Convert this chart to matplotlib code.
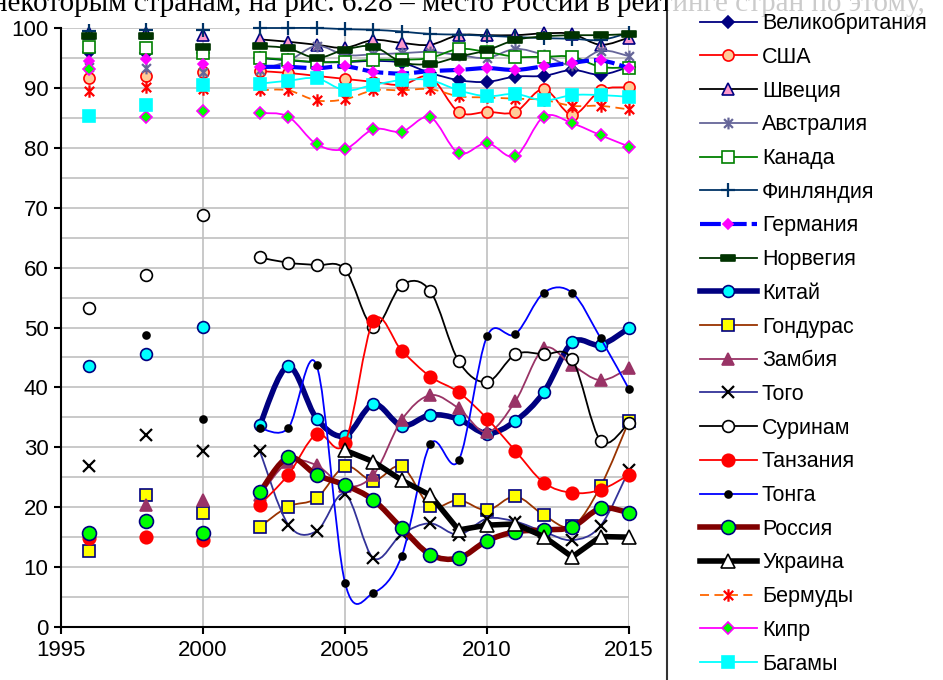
"""
Country rating chart (1996-2015), Excel-style smoothed lines with legend on the right.
Writes out.png.
"""
import numpy as np
import matplotlib
matplotlib.use("Agg")
import matplotlib.pyplot as plt
from matplotlib.lines import Line2D
from matplotlib.path import Path
from matplotlib.patches import PathPatch

plt.rcParams["font.family"] = ["Liberation Sans", "DejaVu Sans"]

nan = np.nan
YEARS = [1996, 1998, 2000, 2002, 2003, 2004, 2005, 2006, 2007, 2008,
         2009, 2010, 2011, 2012, 2013, 2014, 2015]

UK = [96.0, 95.8, 95.8, 95.0, 94.6, 94.3, 94.3, 94.5, 94.2, 92.5, 91.3, 91.0, 91.9, 92.0, 93.0, 92.2, 93.5]
USA = [91.6, 92.0, 92.6, 92.8, 92.5, 92.0, 91.5, 91.0, 90.5, 91.8, 86.0, 86.0, 86.0, 89.8, 85.5, 89.6, 90.1]
SWEDEN = [99.2, 99.2, 98.8, 98.1, 97.7, 97.2, 96.7, 98.0, 97.5, 97.2, 98.8, 98.8, 98.8, 99.1, 99.0, 97.2, 98.4]
AUSTRALIA = [93.5, 93.3, 92.7, 93.0, 94.5, 97.0, 95.5, 95.6, 95.8, 96.0, 95.5, 95.0, 96.5, 95.5, 93.8, 96.2, 95.3]
CANADA = [96.8, 96.7, 95.8, 95.0, 94.7, 94.3, 94.4, 94.7, 94.7, 95.0, 96.5, 96.0, 95.2, 95.2, 95.2, 93.5, 93.4]
FINLAND = [99.5, 99.7, 99.7, 100.0, 100.0, 100.0, 99.8, 99.7, 99.4, 99.0, 98.9, 98.7, 98.5, 98.3, 98.2, 98.0, 99.2]
GERMANY = [94.5, 94.8, 94.0, 93.5, 93.5, 93.3, 93.6, 92.7, 92.4, 92.8, 93.0, 93.3, 93.0, 93.6, 94.2, 94.6, 93.3]
NORWAY = [98.6, 98.6, 96.8, 97.0, 96.6, 95.0, 96.4, 96.9, 94.3, 94.0, 95.2, 96.3, 98.0, 98.6, 98.8, 98.8, 99.0]
CHINA = [43.5, 45.5, 50.1, 33.7, 43.5, 34.8, 31.9, 37.2, 33.6, 35.4, 34.7, 32.3, 34.4, 39.2, 47.5, 47.1, 49.9]
HONDURAS = [12.7, 22.0, 19.0, 16.7, 20.1, 21.5, 26.8, 24.4, 26.8, 20.2, 21.2, 19.5, 21.8, 18.7, 16.8, 23.5, 34.4]
ZAMBIA = [nan, 20.4, 21.2, 22.0, 27.5, 27.0, 23.5, 25.4, 34.6, 38.7, 36.5, 32.5, 37.7, 46.5, 43.7, 41.2, 43.2]
TOGO = [26.8, 32.1, 29.4, 29.4, 17.1, 16.0, 22.2, 11.5, 15.5, 17.3, 15.4, 18.1, 17.6, 15.9, 14.5, 16.9, 26.2]
SURINAME = [53.2, 58.8, 68.8, 61.7, 60.8, 60.4, 59.7, 50.1, 57.1, 56.1, 44.4, 40.9, 45.5, 45.5, 44.7, 31.1, 34.1]
TANZANIA = [14.8, 15.1, 14.6, 20.4, 25.4, 32.2, 30.8, 51.1, 46.1, 41.8, 39.2, 34.8, 29.4, 24.1, 22.4, 22.9, 25.4]
TONGA = [nan, 48.7, 34.7, 33.2, 33.2, 43.7, 7.4, 5.7, 11.9, 30.5, 27.8, 48.5, 48.9, 55.8, 55.8, 48.2, 39.7]
RUSSIA = [15.7, 17.7, 15.7, 22.5, 28.3, 25.4, 23.7, 21.2, 16.5, 12.1, 11.5, 14.4, 15.9, 16.2, 16.7, 19.8, 19.1]
UKRAINE = [nan, nan, nan, nan, nan, nan, 29.5, 27.6, 24.5, 22.0, 16.2, 17.0, 17.2, 15.1, 11.7, 15.1, 15.0]
BERMUDA = [89.4, 90.1, 89.8, 89.6, 89.6, 87.9, 88.1, 89.6, 89.6, 89.8, 88.6, 88.4, 88.2, 88.0, 87.0, 87.0, 86.4]
CYPRUS = [93.2, 85.2, 86.1, 85.8, 85.2, 80.6, 79.8, 83.1, 82.7, 85.1, 79.1, 80.8, 78.6, 85.2, 84.1, 82.1, 80.2]
BAHAMAS = [85.3, 87.1, 90.5, 90.7, 91.2, 91.6, 89.6, 90.5, 91.3, 91.3, 89.6, 88.6, 89.0, 87.9, 88.8, 88.8, 88.5]

# custom marker shapes
BAR = Path([(-1, -0.45), (1, -0.45), (1, 0.45), (-1, 0.45), (-1, -0.45)],
           [Path.MOVETO, Path.LINETO, Path.LINETO, Path.LINETO, Path.CLOSEPOLY])
STAR = Path([(0, -1), (0, 1), (-0.75, -0.75), (0.75, 0.75), (-0.75, 0.75), (0.75, -0.75)],
            [Path.MOVETO, Path.LINETO] * 3)

# name, values, line colour, line width, dashes, marker, size, face, edge, smooth
SERIES = [
    ("Великобритания", UK, "#000080", 1.3, None, "D", 6, "#000080", "#000080", True),
    ("США", USA, "#FF0000", 1.3, None, "o", 8, "#FFCC99", "#FF0000", True),
    ("Швеция", SWEDEN, "#000000", 1.3, None, "^", 8.5, "#FF99CC", "#000080", True),
    ("Австралия", AUSTRALIA, "#666699", 1.3, None, STAR, 8.5, "none", "#666699", True),
    ("Канада", CANADA, "#008000", 1.3, None, "s", 8.5, "#FFFFFF", "#008000", True),
    ("Финляндия", FINLAND, "#003366", 1.3, None, "+", 10, "#003366", "#003366", True),
    ("Германия", GERMANY, "#0000FF", 3.0, (5, 1.2), "D", 5, "#FF00FF", "#FF00FF", True),
    ("Норвегия", NORWAY, "#003300", 1.3, None, BAR, 9.5, "#003300", "#003300", True),
    ("Китай", CHINA, "#000080", 4.0, None, "o", 8.5, "#00FFFF", "#000080", True),
    ("Гондурас", HONDURAS, "#993300", 1.3, None, "s", 8, "#FFFF00", "#000080", True),
    ("Замбия", ZAMBIA, "#993366", 1.3, None, "^", 8.5, "#993366", "#993366", True),
    ("Того", TOGO, "#333399", 1.3, None, "x", 8.5, "#000000", "#000000", True),
    ("Суринам", SURINAME, "#000000", 1.3, None, "o", 8.5, "#FFFFFF", "#000000", True),
    ("Танзания", TANZANIA, "#FF0000", 1.3, None, "o", 9, "#FF0000", "#FF0000", True),
    ("Тонга", TONGA, "#0000FF", 1.3, None, "o", 5, "#000000", "#000000", True),
    ("Россия", RUSSIA, "#800000", 4.0, None, "o", 10, "#00FF00", "#000080", True),
    ("Украина", UKRAINE, "#000000", 4.0, None, "^", 9.5, "#FFFFFF", "#000000", False),
    ("Бермуды", BERMUDA, "#FF6600", 1.3, (5, 3), STAR, 9, "none", "#FF0000", True),
    ("Кипр", CYPRUS, "#FF00FF", 1.3, None, "D", 6.5, "#00FF00", "#FF00FF", True),
    ("Багамы", BAHAMAS, "#00FFFF", 1.3, None, "s", 9, "#00FFFF", "#00FFFF", True),
]


def smooth_path(xs, ys, t):
    """Excel-like smoothed line as cubic Bezier path (t=0 gives straight segments)."""
    verts, codes = [(xs[0], ys[0])], [Path.MOVETO]
    n = len(xs)
    for i in range(n - 1):
        a = i - 1 if i > 0 else i
        d = i + 2 if i + 2 < n else i + 1
        c1 = (xs[i] + (xs[i + 1] - xs[a]) * t, ys[i] + (ys[i + 1] - ys[a]) * t)
        c2 = (xs[i + 1] - (xs[d] - xs[i]) * t, ys[i + 1] - (ys[d] - ys[i]) * t)
        verts += [c1, c2, (xs[i + 1], ys[i + 1])]
        codes += [Path.CURVE4] * 3
    return Path(verts, codes)


def runs(years, vals):
    """Split into consecutive-year runs without gaps."""
    out, cur = [], []
    for yr, v in zip(years, vals):
        if np.isnan(v) or (cur and yr - cur[-1][0] > 1):
            if len(cur) > 1:
                out.append(cur)
            cur = []
        if not np.isnan(v):
            cur.append((yr, v))
    if len(cur) > 1:
        out.append(cur)
    return out


fig = plt.figure(figsize=(9.43, 6.8), dpi=100)
ax = fig.add_axes([61 / 943, 1 - 627 / 680, 568 / 943, 599 / 680])
ax.set_xlim(1995, 2015)
ax.set_ylim(0, 100)

handles = []
for k, (name, vals, col, lw, dash, mk, ms, fc, ec, smooth) in enumerate(SERIES):
    z = 3 + k * 0.1
    mew = 1.6 if mk in ("+", "x") or mk is STAR else 1.2
    for run in runs(YEARS, np.array(vals, dtype=float)):
        xs = [p[0] for p in run]
        ys = [p[1] for p in run]
        patch = PathPatch(smooth_path(xs, ys, 1 / 6 if smooth else 0), facecolor="none",
                          edgecolor=col, lw=lw, joinstyle="round", capstyle="butt",
                          transform=ax.transData, zorder=z, clip_on=False)
        if dash:
            patch.set_linestyle((0, dash))
        ax.add_patch(patch)
    ax.plot(YEARS, vals, ls="none", marker=mk, ms=ms, mfc=fc, mec=ec, mew=mew,
            zorder=z + 0.05, clip_on=False)
    handles.append(Line2D([], [], color=col, lw=lw, ls=(0, dash) if dash else "-",
                          marker=mk, ms=ms, mfc=fc, mec=ec, mew=mew))

ax.set_xticks([1995, 2000, 2005, 2010, 2015])
ax.set_yticks(range(0, 101, 10))
ax.set_yticks(range(5, 100, 10), minor=True)
ax.tick_params(axis="both", labelsize=16, direction="out", length=5, width=1.5,
               colors="black", pad=4)
ax.tick_params(axis="y", which="minor", length=0)
ax.grid(True, which="both", color="#C0C0C0", lw=1.2, zorder=0)
ax.set_axisbelow(True)
for s in ("top", "right"):
    ax.spines[s].set_visible(False)
for s in ("left", "bottom"):
    ax.spines[s].set_linewidth(1.5)

leg = fig.legend(handles, [s[0] for s in SERIES], loc="upper left",
                 bbox_to_anchor=(667 / 943, 1 + 20 / 680), fontsize=15.5, numpoints=1,
                 handlelength=2.65, handletextpad=0.23, labelspacing=0.59,
                 borderpad=1.53, borderaxespad=0, fancybox=False, frameon=True)
leg.get_frame().set_edgecolor("black")
leg.get_frame().set_linewidth(1.5)

fig.text(-8 / 943, 1 - 11 / 680,
         "некоторым странам, на рис. 6.28 – место России в рейтинге стран по этому,",
         family=["Liberation Serif", "DejaVu Serif"], fontsize=21, va="baseline", ha="left")

fig.savefig("out.png", dpi=100)
